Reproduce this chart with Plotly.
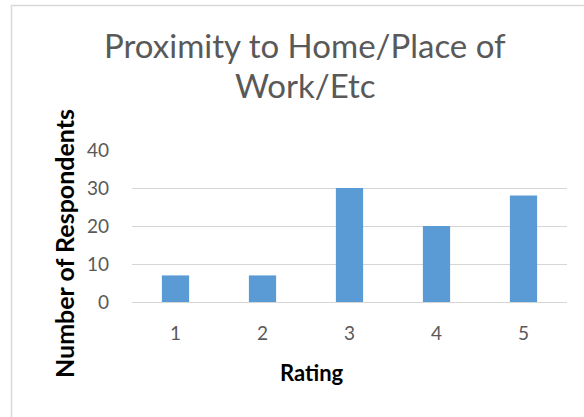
import plotly.graph_objects as go

# ratings and respondent counts
ratings = ["1", "2", "3", "4", "5"]
respondents = [7, 7, 30, 20, 28]
y_ticks = [0, 10, 20, 30, 40]
title_lines = ["Proximity to Home/Place of", "Work/Etc"]

W, H = 584, 417
L, R, T, B = 132, 17, 150, 115   # plot area 132..567 x 150..302
pw, ph = W - L - R, H - T - B

def px_x(x):
    return (x - L) / pw

def px_y(y):
    return (H - B - y) / ph

fig = go.Figure(go.Bar(
    x=ratings, y=respondents,
    marker=dict(color="#5B9BD5", line=dict(width=0)),
))

title_annots = [
    dict(text=t, x=px_x(305), y=px_y(yc), xref="paper", yref="paper",
         xanchor="center", yanchor="middle", showarrow=False,
         font=dict(size=33, color="#595959", family="Lato"))
    for t, yc in zip(title_lines, [45, 85])
]

fig.update_layout(
    width=W, height=H,
    margin=dict(l=L, r=R, t=T, b=B),
    paper_bgcolor="white", plot_bgcolor="white",
    bargap=0.687,
    showlegend=False,
    font=dict(family="Lato", color="#595959"),
    xaxis=dict(
        type="category", showgrid=False, showline=False,
        tickfont=dict(size=19, color="#595959"),
        ticklabelstandoff=18,
    ),
    yaxis=dict(
        range=[0, 40], tickvals=y_ticks,
        showgrid=True, gridcolor="#D6D6D6", gridwidth=1.4,
        zeroline=True, zerolinecolor="#D6D6D6", zerolinewidth=1.4,
        showline=False,
        tickfont=dict(size=19, color="#595959"),
        ticklabelstandoff=22,
    ),
    annotations=title_annots + [
        dict(text="<b>Number of Respondents</b>", textangle=-90,
             x=px_x(64), y=px_y(244), xref="paper", yref="paper",
             xanchor="center", yanchor="middle", showarrow=False,
             font=dict(size=25, color="black", family="Lato")),
        dict(text="<b>Rating</b>",
             x=px_x(312), y=px_y(372), xref="paper", yref="paper",
             xanchor="center", yanchor="middle", showarrow=False,
             font=dict(size=22, color="black", family="Lato")),
    ],
    shapes=[
        dict(type="rect", xref="paper", yref="paper",
             x0=px_x(11.5), x1=px_x(600), y0=px_y(430), y1=px_y(5.5),
             line=dict(color="#D9D9D9", width=1.5), fillcolor="rgba(0,0,0,0)",
             layer="below"),
    ],
)

fig.write_html("out.html", config={"displayModeBar": False},
               post_script="document.body.style.margin='0';")
